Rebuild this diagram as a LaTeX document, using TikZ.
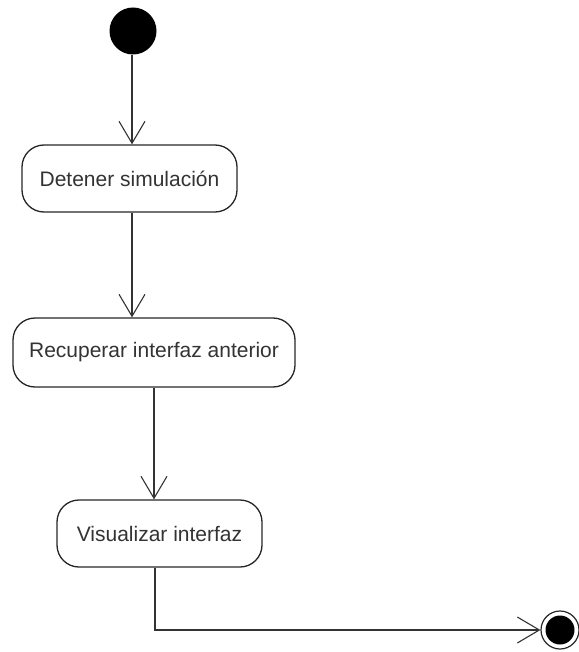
\documentclass[tikz,border=0pt]{standalone}
\usepackage{fontspec}
\setmainfont{Liberation Sans}
\usetikzlibrary{arrows.meta}
\begin{document}
\begin{tikzpicture}[x=1pt,y=-1pt,
  action/.style={draw=black!85, line width=1.3pt, rounded corners=22pt,
    font=\fontsize{21}{24}\selectfont, text=black!80, inner sep=0pt},
  flow/.style={draw=black!80, line width=1.1pt,
    -{Straight Barb[length=22pt,width=26pt,line width=1.1pt]}}]
  \useasboundingbox (0,0) rectangle (578,652);
  % initial node
  \node[circle, fill=black, minimum size=47pt, inner sep=0pt] (init) at (133,31) {};
  % activities
  \node[action, minimum width=215pt, minimum height=67pt] (a1) at (129.5,178.5) {Detener simulación};
  \node[action, minimum width=282pt, minimum height=69pt] (a2) at (154,352.5) {Recuperar interfaz anterior};
  \node[action, minimum width=205pt, minimum height=67pt] (a3) at (159.5,533.5) {Visualizar interfaz};
  % final node
  \node[circle, draw=black!85, line width=1.2pt, minimum size=38pt, inner sep=0pt] (final) at (560,630) {};
  \fill[black] (final.center) circle (14.5);
  % transitions
  \coordinate (t1) at (132,0);
  \coordinate (t3) at (155,0);
  \draw[flow] (init.south -| t1) -- (a1.north -| t1);
  \draw[flow] (a1.south -| t1) -- (a2.north -| t1);
  \draw[flow] (a2.south) -- (a3.north -| a2.south);
  \draw[flow] (a3.south -| t3) |- (final.west);
\end{tikzpicture}
\end{document}
